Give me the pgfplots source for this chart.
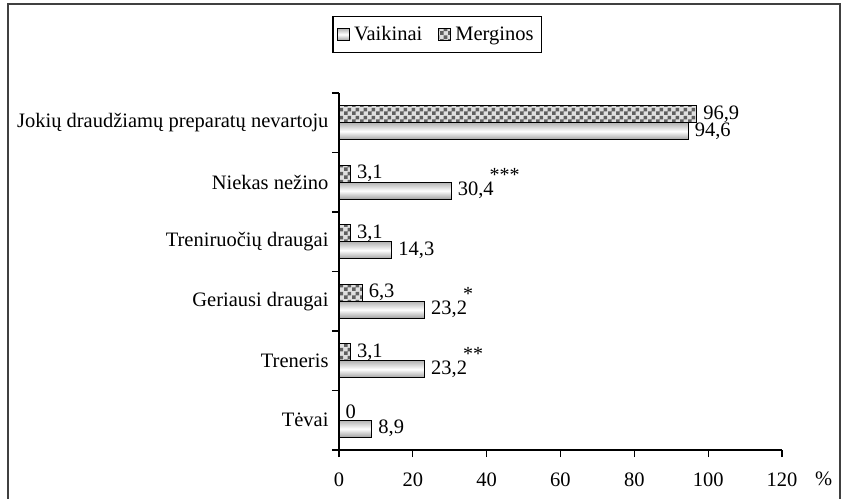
\documentclass[border=0pt]{standalone}
\usepackage{fontspec}
\setmainfont{Liberation Serif}
\usepackage{pgfplots}
\pgfplotsset{compat=1.18}
\usetikzlibrary{patterns}
\pgfdeclarepatternformonly{mycheck}{\pgfpointorigin}{\pgfpoint{8bp}{8bp}}{\pgfpoint{8bp}{8bp}}{%
 \pgfpathrectangle{\pgfpointorigin}{\pgfpoint{4bp}{4bp}}%
 \pgfpathrectangle{\pgfpoint{4bp}{4bp}}{\pgfpoint{4bp}{4bp}}%
 \pgfusepath{fill}}
\newcommand\st[1]{\hspace{-4bp}\smash{\raisebox{14bp}{\fontsize{20bp}{20bp}\selectfont #1}}}
\pgfplotsset{vaik/.style={draw=black, line width=1.2bp, top color=gray!60, bottom color=gray!75, middle color=white, bar shift=-8.5bp}}
\begin{document}
\begin{tikzpicture}[font=\fontsize{20.5bp}{24bp}\selectfont]
\begin{axis}[name=ax,
 scale only axis, width=443bp, height=357bp,
 xbar, bar width=17bp,
 xmin=0, xmax=120, ymin=-0.5, ymax=5.5,
 axis lines*=left,
 axis line style={line width=1.2bp, -},
 xtick={0,20,...,120},
 ytick={-0.5,0.5,1.5,2.5,3.5,4.5,5.5},
 y tick label as interval,
 yticklabels={Tėvai, Treneris, Geriausi draugai, Treniruočių draugai, Niekas nežino, Jokių draudžiamų preparatų nevartoju},
 xticklabel style={yshift=-12bp},
 tick align=outside,
 major tick length=7bp,
 every tick/.append style={line width=1.2bp, black},
 /pgf/number format/assume math mode=true,
 point meta=explicit symbolic,
 nodes near coords,
 nodes near coords style={anchor=west, inner sep=0bp, xshift=6bp, black},
 clip=false,
 legend style={at={(axis description cs:0.222,1.164)}, anchor=center, legend columns=2, draw=black, line width=1.2bp, inner xsep=4bp, inner ysep=8bp, /tikz/every even column/.append style={column sep=12bp}, cells={anchor=west}, nodes={inner xsep=4bp}},
 legend image code/.code={\draw[#1, line width=1bp] (0bp,-6bp) rectangle (12bp,6bp);},
 xlabel={\%},
 xlabel style={at={(axis description cs:1,0)}, anchor=base west, xshift=33bp, yshift=-35bp, inner sep=0pt},
]
\addplot[vaik] coordinates {(8.9,0) [8,9]};
\addlegendentry{Vaikinai}
\addplot[vaik, forget plot] coordinates {(23.2,1) [23,2\st{**}]};
\addplot[vaik, forget plot] coordinates {(23.2,2) [23,2\st{*}]};
\addplot[vaik, forget plot] coordinates {(14.3,3) [14,3]};
\addplot[vaik, forget plot] coordinates {(30.4,4) [30,4\st{***}]};
\addplot[vaik, forget plot] coordinates {(94.6,5) [94,6]};
\addplot[draw=black, line width=1.2bp, fill=gray!25, postaction={pattern=mycheck, pattern color=gray!75!black}, bar shift=8.5bp] coordinates {(0,0) [0] (3.1,1) [3,1] (6.3,2) [6,3] (3.1,3) [3,1] (3.1,4) [3,1] (96.9,5) [96,9]};
\addlegendentry{Merginos}
\end{axis}
\path[use as bounding box] ([shift={(-339bp,-49bp)}]ax.south west) rectangle ([shift={(59bp,93bp)}]ax.north east);
\draw[line width=1.3bp, black!75] ([shift={(-331bp,-60bp)}]ax.south west) -- ([shift={(-331bp,89bp)}]ax.north west) -- ([shift={(58bp,89bp)}]ax.north east) -- ([shift={(58bp,-60bp)}]ax.south east);
\end{tikzpicture}
\end{document}
